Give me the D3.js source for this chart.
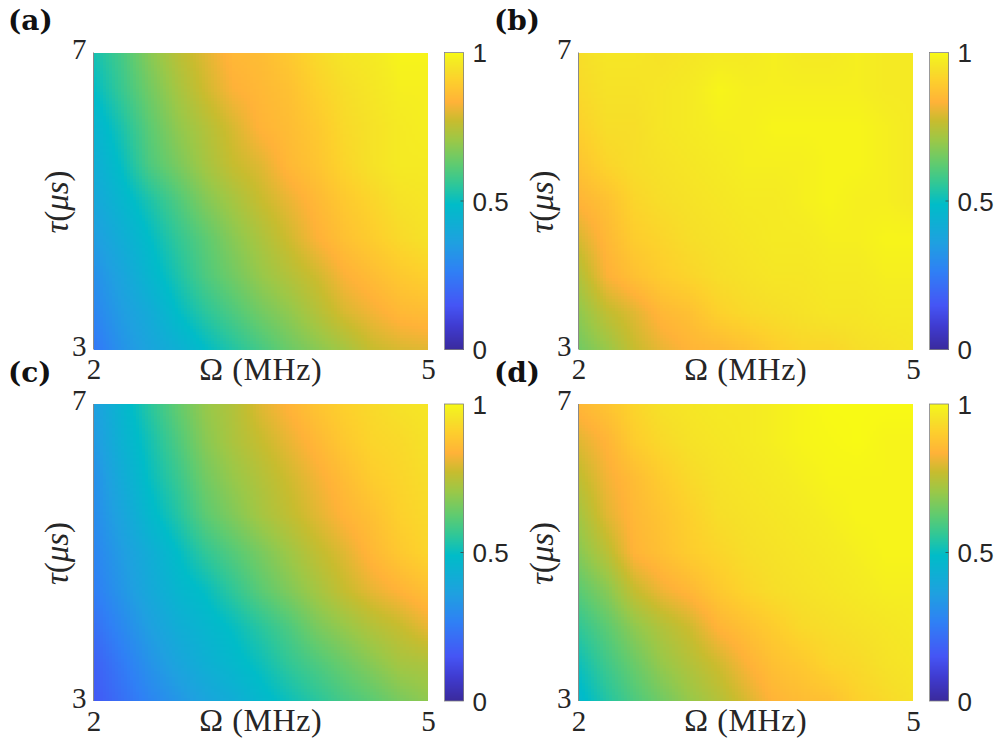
<!DOCTYPE html>
<html><head><meta charset="utf-8">
<script src="https://cdn.jsdelivr.net/npm/d3@7"></script>
<style>html,body{margin:0;padding:0;background:#fff}svg{display:block}</style>
</head><body><svg id="c" width="996" height="744"></svg>
<script>
const omegaValues=[2,2.25,2.5,2.75,3,3.25,3.5,3.75,4,4.25,4.5,4.75,5];
const tauValues=[7,6.5,6,5.5,5,4.5,4,3.5,3];
const panelLabels=["(a)","(b)","(c)","(d)"];
const xTickValues=[2,5];
const yTickValues=[3,7];
const barTickValues=[0,0.5,1];
const colorStops=[0,0.08,0.15,0.265,0.36,0.49,0.558,0.625,0.704,0.772,0.834,0.908,0.945,0.975,1];
const colorHex=["#3a2a9c","#3f3bd0","#4555f5","#2f80f5","#1fa0e0","#00bcc8","#2fc798","#5fcb70","#9ac848","#c8bc2e","#ffb238","#fdd02c","#f6e028","#f5ec22","#f8fa14"];
const gridA=[
[.52,.59,.68,.75,.80,.85,.86,.89,.93,.96,.97,.99,.99],
[.49,.57,.65,.72,.78,.83,.85,.87,.91,.94,.96,.98,.98],
[.45,.53,.62,.69,.74,.79,.84,.86,.89,.93,.95,.97,.98],
[.42,.50,.60,.66,.72,.77,.80,.85,.88,.92,.95,.97,.97],
[.39,.46,.53,.60,.67,.72,.77,.81,.85,.89,.92,.95,.96],
[.35,.42,.49,.56,.62,.68,.73,.78,.83,.87,.90,.93,.95],
[.31,.38,.46,.53,.60,.65,.70,.74,.78,.83,.86,.89,.91],
[.28,.35,.41,.49,.55,.60,.65,.69,.74,.79,.82,.85,.86],
[.24,.32,.38,.43,.49,.54,.59,.64,.68,.72,.77,.79,.80]];
const gridB=[
[.94,.96,.96,.95,.96,.97,.97,.98,.97,.97,.98,.97,.97],
[.93,.95,.95,.96,.97,.99,.98,.98,.98,.98,.98,.97,.97],
[.91,.94,.94,.96,.97,.98,.98,.99,.99,.99,.99,.98,.97],
[.88,.92,.94,.95,.96,.97,.98,.98,.98,.99,.99,.98,.97],
[.84,.87,.92,.94,.95,.96,.97,.97,.98,.99,.98,.98,.97],
[.79,.85,.90,.92,.94,.95,.96,.97,.97,.98,.98,.99,.99],
[.74,.83,.87,.90,.92,.94,.95,.96,.96,.97,.97,.98,.98],
[.69,.76,.80,.85,.87,.91,.93,.94,.95,.96,.96,.97,.97],
[.65,.70,.77,.81,.84,.85,.87,.90,.92,.92,.94,.95,.96]];
const gridC=[
[.36,.46,.55,.63,.70,.74,.80,.84,.88,.91,.93,.95,.96],
[.34,.44,.52,.60,.68,.73,.77,.81,.85,.89,.92,.93,.95],
[.31,.41,.50,.57,.65,.70,.74,.78,.82,.86,.90,.92,.94],
[.30,.38,.47,.54,.62,.67,.72,.76,.80,.84,.87,.91,.93],
[.28,.35,.42,.49,.56,.61,.66,.71,.76,.80,.85,.89,.92],
[.26,.33,.40,.46,.50,.56,.62,.67,.72,.77,.81,.84,.87],
[.22,.29,.36,.42,.46,.50,.55,.60,.66,.70,.74,.77,.81],
[.18,.25,.32,.38,.43,.47,.51,.56,.60,.64,.68,.72,.73],
[.16,.22,.28,.33,.38,.42,.47,.51,.55,.59,.62,.66,.69]];
const gridD=[
[.85,.88,.92,.95,.96,.97,.97,.98,.99,1,1,1,1],
[.80,.84,.90,.93,.95,.96,.97,.98,.99,.995,1,.99,.99],
[.76,.82,.86,.90,.93,.95,.96,.97,.98,.99,.99,.99,.99],
[.72,.80,.85,.88,.91,.94,.95,.96,.97,.98,.99,.99,.99],
[.68,.75,.84,.87,.90,.92,.94,.95,.96,.97,.98,.99,.99],
[.62,.68,.77,.82,.85,.89,.92,.94,.95,.96,.97,.98,.98],
[.56,.62,.69,.74,.78,.84,.87,.90,.93,.94,.95,.96,.97],
[.51,.58,.64,.70,.74,.78,.83,.87,.89,.92,.93,.95,.96],
[.47,.54,.60,.65,.70,.74,.79,.84,.86,.87,.91,.93,.95]];
const grids=[gridA,gridB,gridC,gridD];

const color=d3.scaleLinear().domain(colorStops).range(colorHex).clamp(true);
const svg=d3.select("#c");
const origins=[[93.5,52.5],[578.5,52.5],[93.5,404],[578.5,404]];
const labelPos=[[8,30],[494,30],[8,382],[494,382]];
const W=334.5,H=297,STEP=3;
const SERIF="'Liberation Serif','DejaVu Serif',serif",SANS="'Liberation Sans',Arial,sans-serif";
const iCol=d3.scaleLinear().domain(omegaValues).range(d3.range(omegaValues.length));
const iRow=d3.scaleLinear().domain(tauValues).range(d3.range(tauValues.length));
function sample(g,om,ta){
  const a=iCol(om),b=iRow(ta);
  const c0=Math.min(Math.floor(a),omegaValues.length-2),r0=Math.min(Math.floor(b),tauValues.length-2);
  const u=a-c0,v=b-r0;
  return (1-v)*((1-u)*g[r0][c0]+u*g[r0][c0+1])+v*((1-u)*g[r0+1][c0]+u*g[r0+1][c0+1]);
}
grids.forEach((g,p)=>{
  const [ox,oy]=origins[p];
  const root=svg.append("g").attr("transform",`translate(${ox},${oy})`);
  const x=d3.scaleLinear().domain([2,5]).range([0,W]);
  const y=d3.scaleLinear().domain([3,7]).range([H,0]);
  const cells=[];
  for(let py=0;py<H;py+=STEP)for(let px=0;px<W;px+=STEP)cells.push([px,py]);
  root.append("g").attr("shape-rendering","crispEdges").selectAll("rect").data(cells).join("rect")
    .attr("x",d=>d[0]).attr("y",d=>d[1])
    .attr("width",d=>Math.min(STEP,W-d[0])).attr("height",d=>Math.min(STEP,H-d[1]))
    .attr("fill",d=>color(sample(g,x.invert(d[0]+STEP/2),y.invert(d[1]+STEP/2))));
  root.append("line").attr("x1",0).attr("x2",0).attr("y1",0).attr("y2",H).attr("stroke","#8a8a8a").attr("stroke-width",1);
  const ax=root.append("g").attr("transform",`translate(0,${H})`)
    .call(d3.axisBottom(x).tickValues(xTickValues).tickSize(0).tickPadding(9).tickFormat(d3.format("d")));
  ax.select(".domain").remove();
  ax.selectAll("text").attr("font-family",SERIF).attr("font-size",29).attr("fill","#262626");
  const ay=root.append("g")
    .call(d3.axisLeft(y).tickValues(yTickValues).tickSize(0).tickPadding(7).tickFormat(d3.format("d")));
  ay.select(".domain").remove();
  ay.selectAll("text").attr("font-family",SERIF).attr("font-size",29).attr("fill","#262626");
  ay.selectAll(".tick text").attr("dy",(d)=>d===7?"0.2em":"0.22em");
  root.append("text").attr("x",W/2-0).attr("y",H+30).attr("text-anchor","middle")
    .attr("font-family",SERIF).attr("font-size",32).attr("letter-spacing",.6).attr("fill","#262626").text("Ω (MHz)");
  const yl=root.append("text").attr("transform",`translate(-26,${H/2+1}) rotate(-90)`).attr("text-anchor","middle")
    .attr("font-family",SERIF).attr("font-size",33).attr("fill","#262626");
  yl.append("tspan").attr("font-style","italic").text("τ");
  yl.append("tspan").text("(");
  yl.append("tspan").attr("font-style","italic").text("μs");
  yl.append("tspan").text(")");
  const barX=W+16.5,barW=19;
  const cb=root.append("g").attr("transform",`translate(${barX},0)`);
  const bs=d3.scaleLinear().domain([0,1]).range([H,0]);
  cb.append("g").attr("shape-rendering","crispEdges").selectAll("rect").data(d3.range(0,H,1)).join("rect")
    .attr("x",0).attr("y",d=>d).attr("width",barW).attr("height",1.2).attr("fill",d=>color(bs.invert(d+.5)));
  cb.append("rect").attr("width",barW).attr("height",H).attr("fill","none").attr("stroke","#808080").attr("stroke-width",.8);
  const ac=cb.append("g").attr("transform",`translate(${barW},0)`)
    .call(d3.axisRight(bs).tickValues(barTickValues).tickSize(0).tickPadding(9).tickFormat(d=>String(d)));
  ac.select(".domain").remove();
  ac.selectAll("text").attr("font-family",SANS).attr("font-size",26).attr("fill","#262626").attr("dy","0.36em");
  cb.append("line").attr("x1",barW-3).attr("x2",barW).attr("y1",bs(.5)).attr("y2",bs(.5)).attr("stroke","#404040").attr("stroke-width",.8);
  svg.append("text").attr("x",labelPos[p][0]).attr("y",labelPos[p][1])
    .attr("font-family","'DejaVu Serif',serif").attr("font-weight","bold").attr("font-size",28).attr("fill","#111").text(panelLabels[p]);
});
</script></body></html>
